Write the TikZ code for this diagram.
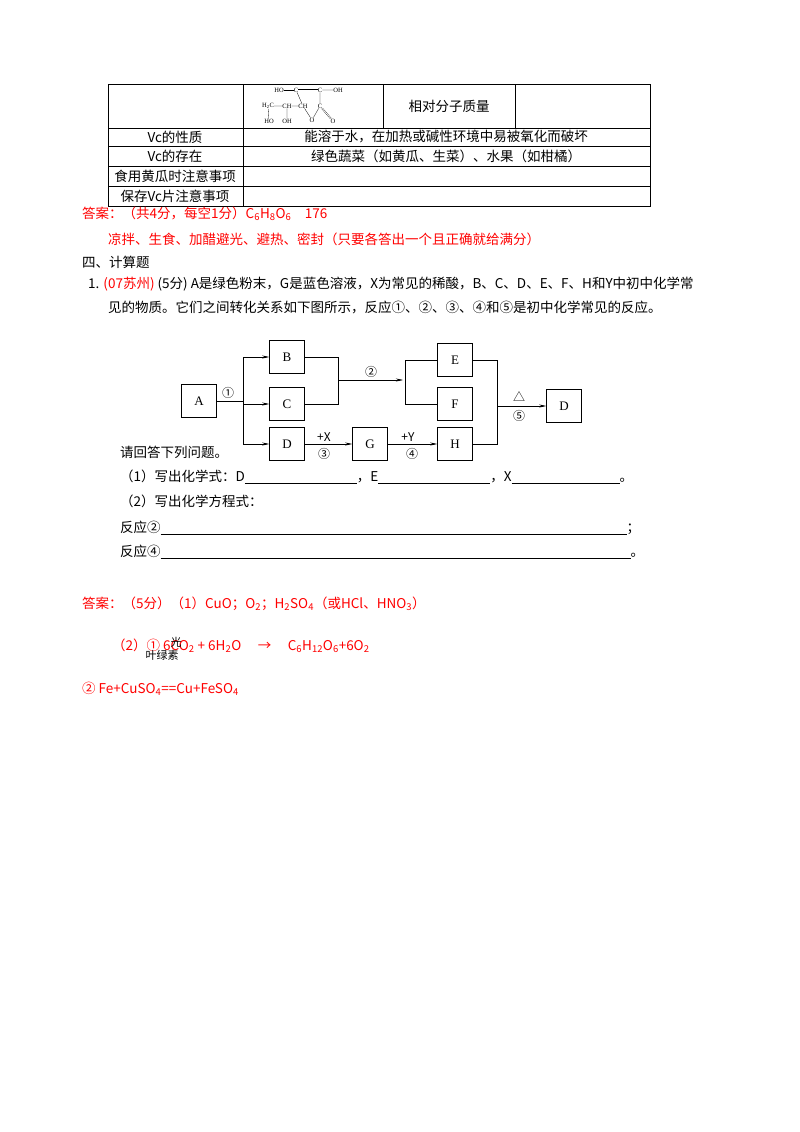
\documentclass[tikz,border=0pt]{standalone}
\usepackage{fontspec}
\setmainfont{Liberation Serif}
\newfontfamily\cjk{Noto Sans CJK SC}
\usetikzlibrary{arrows.meta}
\begin{document}
\begin{tikzpicture}[x=1pt,y=-1pt,
 box/.style={draw,line width=0.5pt,inner sep=0pt,minimum width=35pt,minimum height=33pt,font=\fontsize{13}{14}\selectfont},
 ln/.style={line width=0.5pt},
 ar/.style={line width=0.5pt,-{Stealth[length=7pt,width=3pt]}},
 lab/.style={inner sep=1pt,font=\cjk\fontsize{12}{13}\selectfont},
 t/.style={inner sep=0pt,anchor=west,font=\cjk\fontsize{13.5}{15}\selectfont},
 tc/.style={inner sep=0pt,font=\cjk\fontsize{13.5}{15}\selectfont},
 red/.style={text=red},
 mol/.style={inner sep=0pt,font=\fontsize{6.5}{7}\selectfont}]
\useasboundingbox (0,0) rectangle (800,1132);
% table
\draw[ln] (108,84) rectangle (650,206);
\foreach \y in {128,146,166,186} \draw[ln] (108,\y)--(650,\y);
\draw[ln] (243,84)--(243,206);
\draw[ln] (383,84)--(383,128);
\draw[ln] (515,84)--(515,128);
\node[tc] (q1) at (449,106) {相对分子质量};
\node[tc] (r1) at (175,137) {Vc的性质};
\node[tc] (r1v) at (446,137) {能溶于水，在加热或碱性环境中易被氧化而破坏};
\node[tc] (r2) at (175,156) {Vc的存在};
\node[tc] (r2v) at (446,156) {绿色蔬菜（如黄瓜、生菜）、水果（如柑橘）};
\node[tc] (r3) at (175,176) {食用黄瓜时注意事项};
\node[tc] (r4) at (175,196) {保存Vc片注意事项};
% molecule
\node[mol] (m1) at (279,90) {HO};
\node[mol] (m2) at (296,90) {C};
\node[mol] (m3) at (320,90) {C};
\node[mol] (m4) at (338,90) {OH};
\node[mol] (m5) at (268,106) {H\textsubscript{2}C};
\node[mol] (m6) at (287,106) {CH};
\node[mol] (m7) at (303,106) {CH};
\node[mol] (m8) at (320,106) {C};
\node[mol] (m9) at (269,121) {HO};
\node[mol] (m10) at (287,121) {OH};
\node[mol] (m11) at (312,120) {O};
\node[mol] (m12) at (333,121) {O};
\draw[line width=0.3pt] (m1)--(m2);
\draw[line width=0.3pt,double,double distance=0.8pt] (m2)--(m3);
\draw[line width=0.3pt] (m3)--(m4) (m5)--(m6) (m6)--(m7) (m2)--(m7) (m3)--(m8) (m5)--(m9) (m6)--(m10) (m7)--(m11) (m8)--(m11);
\draw[line width=0.3pt,double,double distance=0.8pt] (m8)--(m12);
% answers
\node[t,red] (a1) at (82,214) {答案：（共4分，每空1分）C\textsubscript{6}H\textsubscript{8}O\textsubscript{6}\quad 176};
\node[t,red] (a2) at (108,239) {凉拌、生食、加醋避光、避热、密封（只要各答出一个且正确就给满分）};
\node[t] (s4) at (82,262) {四、计算题};
\node[t] (q) at (88,284) {1. \textcolor{red}{(07苏州)} (5分) A是绿色粉末，G是蓝色溶液，X为常见的稀酸，B、C、D、E、F、H和Y中初中化学常};
\node[t] (q2) at (108,307) {见的物质。它们之间转化关系如下图所示，反应①、②、③、④和⑤是初中化学常见的反应。};
% diagram
\node[box] (A) at (199,401) {A};
\node[box] (B) at (287,357) {B};
\node[box] (C) at (287,404) {C};
\node[box] (D) at (287,444) {D};
\node[box] (G) at (370,444) {G};
\node[box] (H) at (455,444) {H};
\node[box] (E) at (455,360) {E};
\node[box] (F) at (455,404) {F};
\node[box] (D2) at (564,406) {D};
\coordinate (j1) at (243,401);
\draw[ln] (A.east)--(j1);
\draw[ln] (243,357)--(243,444);
\draw[ar] (243,357)--(B.west);
\draw[ar] (243,404)--(C.west);
\draw[ar] (243,444)--(D.west);
\node[lab] (c1) at (228,393) {①};
\draw[ln] (B.east)--(338,357)--(338,404)--(C.east);
\draw[ar] (338,380)--(403,380);
\node[lab] (c2) at (371,372) {②};
\draw[ln] (E.west)--(405,360)--(405,404)--(F.west);
\draw[ln] (E.east)--(497,360)--(497,444)--(H.east);
\draw[ar] (497,406)--(D2.west);
\node[lab] (tri) at (519,397) {△};
\node[lab] (c5) at (519,416) {⑤};
\draw[ar] (D.east)--(G.west);
\node[lab] (px) at (324,437) {+X};
\node[lab] (c3) at (324,454) {③};
\draw[ar] (G.east)--(H.west);
\node[lab] (py) at (408,437) {+Y};
\node[lab] (c4) at (412,454) {④};
\node[t] (p1) at (120,452) {请回答下列问题。};
\node[t] (p2) at (120,477) {（1）写出化学式：D\underline{\hspace{112pt}}，E\underline{\hspace{112pt}}，X\underline{\hspace{108pt}}。};
\node[t] (p3) at (120,501) {（2）写出化学方程式：};
\node[t] (p4) at (120,528) {反应②\underline{\hspace{466pt}}；};
\node[t] (p5) at (120,552) {反应④\underline{\hspace{470pt}}。};
% final answers
\node[t,red] (f1) at (82,604) {答案：（5分）（1）CuO；O\textsubscript{2}；H\textsubscript{2}SO\textsubscript{4}（或HCl、HNO\textsubscript{3}）};
\node[t,red] (f2) at (112,646) {（2）① 6CO\textsubscript{2} + 6H\textsubscript{2}O \quad → \quad C\textsubscript{6}H\textsubscript{12}O\textsubscript{6}+6O\textsubscript{2}};
\node[tc,font=\cjk\fontsize{11}{12}\selectfont] (g1) at (176,642) {光};
\node[tc,font=\cjk\fontsize{11}{12}\selectfont] (g2) at (162,655) {叶绿素};
\node[t,red] (f3) at (82,689) {② Fe+CuSO\textsubscript{4}==Cu+FeSO\textsubscript{4}};
\end{tikzpicture}
\end{document}
